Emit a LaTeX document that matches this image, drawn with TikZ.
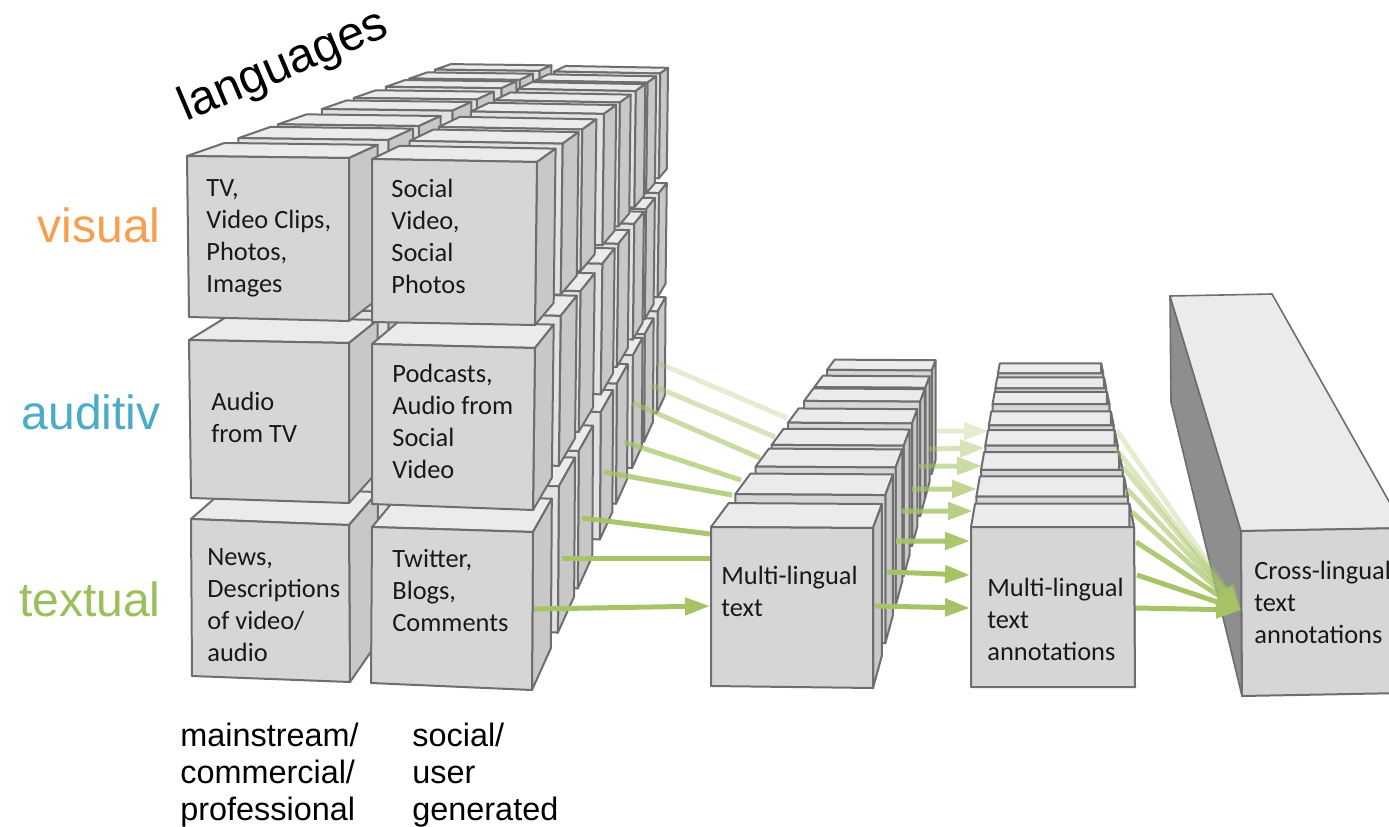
\documentclass[tikz,border=0pt]{standalone}
\usepackage{fontspec}
\setmainfont{Carlito}
\newfontfamily\labelfont{Liberation Sans}
\usetikzlibrary{calc,arrows.meta}

\definecolor{boxline}{HTML}{6E6E6E}
\definecolor{boxfront}{HTML}{D6D6D6}
\definecolor{boxstrip}{HTML}{E2E2E2}
\definecolor{boxside}{HTML}{C8C8C8}
\definecolor{boxtop}{HTML}{EBEBEB}
\definecolor{boxdark}{HTML}{8E8E8E}
\definecolor{feedgreen}{HTML}{A6C465}
\definecolor{labelorange}{HTML}{F79F4F}
\definecolor{labelblue}{HTML}{4BACC6}
\definecolor{labelgreen}{HTML}{9BBF5A}

\tikzset{
  topface/.style={fill=boxtop, draw=boxline, line width=1pt, line join=round},
  sideface/.style={fill=boxside, draw=boxline, line width=1pt, line join=round},
  frontface/.style={fill=boxfront, draw=boxline, line width=1pt, line join=round},
  stripface/.style={fill=boxstrip, draw=boxline, line width=1pt, line join=round},
  darkface/.style={fill=boxdark, draw=boxline, line width=.8pt, line join=round},
  boxtext/.style={anchor=west, align=left, inner sep=0pt, text=black!90,
                  font=\fontsize{13.2}{16}\selectfont},
  sidelabel/.style={anchor=base east, inner sep=0pt, font=\labelfont\fontsize{24}{28}\selectfont},
  footlabel/.style={anchor=north west, align=left, inner sep=0pt,
                    font=\labelfont\fontsize{16.2}{18.5}\selectfont},
  feed/.style={draw=feedgreen, line width=2.5pt},
  feedtip/.style={feed, -{Triangle[length=12.5pt,width=8.5pt]}, fill=feedgreen},
}

% #1 vanishing point, #2 scale, #3 face style, #4-#7 front corners of the nearest block
\newcommand{\blockat}[7]{
  \pgfmathsetmacro\backs{#2/(1+.057*#2)}
  \coordinate (fa) at ($(#1)!#2!#4$);
  \coordinate (fb) at ($(#1)!#2!#5$);
  \coordinate (fc) at ($(#1)!#2!#6$);
  \coordinate (fd) at ($(#1)!#2!#7$);
  \coordinate (ba) at ($(#1)!\backs!#4$);
  \coordinate (bb) at ($(#1)!\backs!#5$);
  \coordinate (bc) at ($(#1)!\backs!#6$);
  \draw[topface] (fa) -- (ba) -- (bb) -- (fb) -- cycle;
  \draw[sideface] (fb) -- (bb) -- (bc) -- (fc) -- cycle;
  \draw[#3] (fa) -- (fb) -- (fc) -- (fd) -- cycle;
}

\begin{document}
\begin{tikzpicture}[x=.5pt, y=-.5pt]
  \useasboundingbox (0,0) rectangle (1389,826);
  \clip (0,0) rectangle (1389,826);

  \coordinate (vpleft) at (882,-86);
  \coordinate (vpmid) at (1039,83);
  \coordinate (vpright) at (1047,94);

  % source cube, back to front
  \foreach \s/\face in {.643/stripface,.68/stripface,.714/stripface,.76/stripface,.806/stripface,.869/stripface,.926/stripface,1/frontface} {
    \foreach \xa/\ya/\xb/\yb/\xc/\yc/\xd/\yd in {
      191/519/349/525/350/682/192/676,
      372/527/533/532/532/690/371/683,
      189/340/349/343/349/503/191/498,
      372/344/535/348/533/510/372/504,
      187/156/349/158/349/321/189/317,
      372/159/537/162/535/325/372/322} {
      \blockat{vpleft}{\s}{\face}{(\xa,\ya)}{(\xb,\yb)}{(\xc,\yc)}{(\xd,\yd)}
    }
  }

  % feeds into the second stack
  \foreach \i/\xa/\ya/\xb/\yb/\op in {
    7/658/363/787/418/.3, 6/651/385/775/437/.45, 5/633/403/760/458/.6, 4/624/442/741/480/.7,
    3/604/472/732/495/.8, 2/582/518/710/534/.95, 1/562/558/711/558/1} {
    \coordinate (srca\i) at (\xa,\ya);
    \coordinate (dsta\i) at (\xb,\yb);
    \draw[feed, opacity=\op] (srca\i) -- (dsta\i);
  }

  % second stack
  \foreach \s in {.646,.685,.716,.765,.815,.864,.926,1} {
    \blockat{vpmid}{\s}{frontface}{(711,527)}{(873,528)}{(873,688)}{(711,686)}
  }
  \coordinate (srca0) at (534,609);
  \coordinate (dsta0) at (710,606);
  \draw[feedtip] (srca0) -- (dsta0);

  % feeds into the third stack
  \foreach \i/\xa/\ya/\xb/\yb/\op in {
    7/936/431/989/431/.3, 6/926/449/985/448/.45, 5/919/466/982/466/.6, 4/912/489/977/489/.7,
    3/902/511/973/511/.8, 2/896/541/970/541/.95, 1/887/572/970/575/1, 0/874/606/970/608/1} {
    \coordinate (srcb\i) at (\xa,\ya);
    \coordinate (dstb\i) at (\xb,\yb);
    \begin{scope}[transparency group, opacity=\op]
      \draw[feedtip] (srcb\i) -- (dstb\i);
    \end{scope}
  }

  % third stack
  \foreach \s in {.645,.68,.716,.765,.812,.868,.93,1} {
    \blockat{vpright}{\s}{frontface}{(971,527)}{(1134,527)}{(1135,687)}{(971,687)}
  }

  % long block
  \coordinate (longa) at (1170,296);
  \coordinate (longb) at (1272,294);
  \coordinate (longc) at (1404,528);
  \coordinate (longd) at (1241,531);
  \coordinate (longe) at (1242,696);
  \coordinate (longf) at (1171,402);
  \coordinate (longg) at (1404,693);
  \draw[darkface] (longa) -- (longd) -- (longe) -- (longf) -- cycle;
  \draw[topface, line width=.8pt] (longa) -- (longb) -- (longc) -- (longd) -- cycle;
  \draw[frontface] (longd) -- (longc) -- (longg) -- (longe) -- cycle;

  % feeds into the long block
  \coordinate (tiplong) at (1241,610);
  \foreach \i/\xa/\ya/\op in {
    7/1117/431/.3, 6/1117/450/.4, 5/1123/467/.5, 4/1127/489/.6,
    3/1132/512/.7, 2/1136/542/.9, 1/1137/575/1, 0/1136/608/1} {
    \coordinate (srcc\i) at (\xa,\ya);
    \begin{scope}[transparency group, opacity=\op]
      \draw[feedtip] (srcc\i) -- (tiplong);
    \end{scope}
  }

  \node[boxtext] (tv) at (206,238) {TV,\\Video Clips,\\Photos,\\Images};
  \node[boxtext] (socialvideo) at (391,236) {Social\\Video,\\Social\\Photos};
  \node[boxtext] (audiotv) at (211,417) {Audio\\from TV};
  \node[boxtext] (podcasts) at (392,421) {Podcasts,\\Audio from\\Social\\Video};
  \node[boxtext] (news) at (207,605) {News,\\Descriptions\\of video/\\audio};
  \node[boxtext] (twitter) at (392,591) {Twitter,\\Blogs,\\Comments};
  \node[boxtext] (multitext) at (721,591) {Multi-lingual\\text};
  \node[boxtext] (multianno) at (987,619) {Multi-lingual\\text\\annotations};
  \node[boxtext] (crossanno) at (1254,602) {Cross-lingual\\text\\annotations};

  \node[sidelabel, text=labelorange] (visual) at (161,242) {visual};
  \node[sidelabel, text=labelblue] (auditiv) at (161,429) {auditiv};
  \node[sidelabel, text=labelgreen] (textual) at (161,616) {textual};
  \node[inner sep=0pt, rotate=23, font=\labelfont\fontsize{24}{28}\selectfont] (languages) at (284,67) {languages};

  \node[footlabel] (mainstream) at (180,723) {mainstream/\\commercial/\\professional};
  \node[footlabel] (social) at (412,723) {social/\\user\\generated};
\end{tikzpicture}
\end{document}
